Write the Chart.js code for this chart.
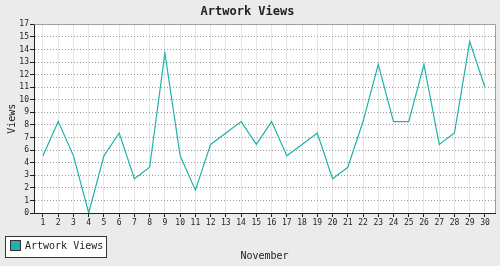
<!DOCTYPE html>
<html>
<head>
<meta charset="utf-8">
<script src="https://cdn.jsdelivr.net/npm/chart.js@4/dist/chart.umd.min.js"></script>
<style>
  body { margin: 0; background: #ebebeb; }
  canvas { display: block; }
</style>
</head>
<body>
<canvas id="graficoViews" width="500" height="266"></canvas>
<script>
// ======================================================
// dados
// ======================================================
const dias = [1, 2, 3, 4, 5, 6, 7, 8, 9, 10, 11, 12, 13, 14, 15,
              16, 17, 18, 19, 20, 21, 22, 23, 24, 25, 26, 27, 28, 29, 30];
const views = [5, 8, 5, 0, 5, 7, 3, 4, 14, 5, 2, 6, 7, 8, 6,
               8, 5, 6, 7, 3, 4, 8, 13, 8, 8, 13, 6, 7, 15, 11];
// eixo y vai ate 16.5 com passo 1.1, rotulos arredondados
const yTicks = [0, 1.1, 2.2, 3.3, 4.4, 5.5, 6.6, 7.7, 8.8, 9.9, 11, 12.1, 13.2, 14.3, 15.4, 16.5];
const yRotulos = ['0', '1', '2', '3', '4', '6', '7', '8', '9', '10', '11', '12', '13', '14', '15', '17'];

const fonteMono = 'DejaVu Sans Mono';
const corLinha = '#20b2aa';
const corTexto = '#222';

// fundo cinza + area do grafico branca
const fundoPlugin = {
  id: 'fundo',
  beforeDraw(chart) {
    const { ctx, chartArea: a } = chart;
    ctx.save();
    ctx.fillStyle = '#ebebeb';
    ctx.fillRect(0, 0, chart.width, chart.height);
    ctx.fillStyle = '#fff';
    ctx.fillRect(a.left, a.top, a.right - a.left, a.bottom - a.top);
    ctx.restore();
  },
  afterDraw(chart) {
    const { ctx, chartArea: a } = chart;
    ctx.save();
    // borda cinza em cima e na direita
    ctx.strokeStyle = '#a0a0a0';
    ctx.lineWidth = 1;
    ctx.beginPath();
    ctx.moveTo(Math.round(a.left) + 0.5, Math.round(a.top) + 0.5);
    ctx.lineTo(Math.round(a.right) + 0.5, Math.round(a.top) + 0.5);
    ctx.lineTo(Math.round(a.right) + 0.5, Math.round(a.bottom));
    ctx.stroke();

    // legenda no canto inferior esquerdo
    const ds = chart.data.datasets[0];
    ctx.fillStyle = '#fff';
    ctx.fillRect(5.5, 236.5, 101, 21);
    ctx.strokeStyle = '#333';
    ctx.strokeRect(5.5, 236.5, 101, 21);
    ctx.fillStyle = ds.borderColor;
    ctx.fillRect(10.5, 240.5, 10, 10);
    ctx.strokeRect(10.5, 240.5, 10, 10);
    ctx.fillStyle = corTexto;
    ctx.font = '10px "' + fonteMono + '"';
    ctx.textBaseline = 'middle';
    ctx.fillText(ds.label, 25, 246.5);
    ctx.restore();
  }
};

const ctx = document.getElementById('graficoViews');

new Chart(ctx, {
  type: 'line',
  data: {
    datasets: [{
      label: 'Artwork Views',
      data: dias.map((d, i) => ({ x: d, y: views[i] })),
      borderColor: corLinha,
      backgroundColor: corLinha,
      borderWidth: 1.2,
      pointRadius: 0,
      tension: 0,
      fill: false
    }]
  },
  options: {
    responsive: false,
    animation: false,
    devicePixelRatio: 1,
    layout: { padding: { left: 0, right: 5, top: 0, bottom: 0 } },
    plugins: {
      legend: { display: false },
      tooltip: { enabled: false },
      title: {
        display: true,
        text: 'Artwork Views',
        color: corTexto,
        font: { family: fonteMono, size: 12, weight: 'bold' },
        padding: { top: 5, bottom: 5 }
      }
    },
    scales: {
      x: {
        type: 'linear',
        min: 0.41,
        max: 30.66,
        afterBuildTicks: (scale) => { scale.ticks = dias.map(d => ({ value: d })); },
        afterFit: (scale) => { scale.height = 53; },
        ticks: {
          autoSkip: false,
          maxRotation: 0,
          padding: 1,
          color: corTexto,
          font: { family: fonteMono, size: 8 },
          callback: (v) => String(v)
        },
        grid: { color: '#e6e6e6', lineWidth: 1, tickLength: 4, tickColor: corTexto },
        border: { color: corTexto, width: 1 },
        title: {
          display: true,
          text: 'November',
          color: corTexto,
          font: { family: fonteMono, size: 10 },
          padding: { top: 0, bottom: 4 }
        }
      },
      y: {
        min: 0,
        max: yTicks[yTicks.length - 1],
        afterBuildTicks: (scale) => { scale.ticks = yTicks.map(v => ({ value: v })); },
        afterFit: (scale) => { scale.width = 34; },
        ticks: {
          autoSkip: false,
          padding: 1,
          color: corTexto,
          font: { family: fonteMono, size: 8 },
          callback: (v, i) => yRotulos[i]
        },
        grid: { color: '#999', lineWidth: 1, tickLength: 4, tickColor: corTexto, tickBorderDash: [] },
        border: { color: corTexto, width: 1, dash: [1, 2] },
        title: {
          display: true,
          text: 'Views',
          color: corTexto,
          font: { family: fonteMono, size: 10 },
          padding: { top: 6, bottom: 0 }
        }
      }
    }
  },
  plugins: [fundoPlugin]
});
</script>
</body>
</html>
